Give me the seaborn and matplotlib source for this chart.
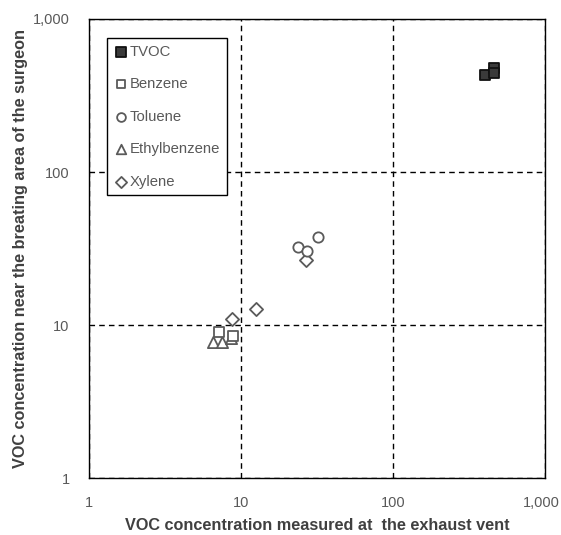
import matplotlib
matplotlib.use("Agg")
import matplotlib.pyplot as plt
import matplotlib.transforms as mtransforms
import seaborn as sns
import pandas as pd
from matplotlib.ticker import FixedLocator, NullLocator

# valori
tvoc_x = [403, 462, 462]
tvoc_y = [430, 475, 445]
benzene_x = [7.2, 8.9]
benzene_y = [9.0, 8.5]
toluene_x = [23.7, 27.2, 32.1]
toluene_y = [32.3, 30.5, 37.6]
ethyl_x = [6.5, 7.5, 8.6]
ethyl_y = [7.7, 7.7, 8.2]
xylene_x = [8.7, 12.6, 26.8]
xylene_y = [10.9, 12.7, 26.6]

names = ["TVOC", "Benzene", "Toluene", "Ethylbenzene", "Xylene"]
xs = [tvoc_x, benzene_x, toluene_x, ethyl_x, xylene_x]
ys = [tvoc_y, benzene_y, toluene_y, ethyl_y, xylene_y]

rows = []
for n, xx, yy in zip(names, xs, ys):
    for a, b in zip(xx, yy):
        rows.append({"compound": n, "exhaust": a, "surgeon": b})
df = pd.DataFrame(rows)

sns.set_style("white")
plt.rcParams['font.family'] = ['Liberation Sans', 'DejaVu Sans']

fig = plt.figure(figsize=(5.61, 5.35), dpi=100)
ax = fig.add_axes([0.1586, 0.1065, 0.813, 0.858])

markers = {"TVOC": "s", "Benzene": "s", "Toluene": "o", "Ethylbenzene": "^", "Xylene": "D"}
faces = {"TVOC": "#3a3a3a"}
sizes = {"TVOC": 60, "Benzene": 55, "Toluene": 55, "Ethylbenzene": 65, "Xylene": 45}
edge = "#5a5a5a"

for n in names[::-1]:
    sub = df[df["compound"] == n]
    sns.scatterplot(data=sub, x="exhaust", y="surgeon", ax=ax,
                    marker=markers[n], s=sizes[n],
                    color=faces.get(n, "white"),
                    edgecolor="#111111" if n == "TVOC" else edge,
                    linewidth=1.3, label=n, zorder=3)

ax.set_xscale("log")
ax.set_yscale("log")
ax.set_xlim(1, 1000)
ax.set_ylim(1, 1000)

ticks = [1, 10, 100, 1000]
labels = ["1", "10", "100", "1,000"]
ax.xaxis.set_major_locator(FixedLocator(ticks))
ax.yaxis.set_major_locator(FixedLocator(ticks))
ax.xaxis.set_minor_locator(NullLocator())
ax.yaxis.set_minor_locator(NullLocator())
ax.set_xticklabels(labels)
ax.set_yticklabels(labels)
ax.tick_params(axis="both", length=0, labelsize=10.5, labelcolor="#595959")
ax.tick_params(axis="x", pad=13)
ax.tick_params(axis="y", pad=14)

# l'ultima etichetta x un po' a sinistra per non uscire dal bordo
last = ax.get_xticklabels()[-1]
last.set_transform(last.get_transform() + mtransforms.ScaledTranslation(-4 / 100, 0, fig.dpi_scale_trans))

ax.grid(True, which="major", color="black", linestyle=(0, (4, 3)), linewidth=1)
for s in ax.spines.values():
    s.set_color("black")
    s.set_linewidth(1)

ax.set_xlabel("VOC concentration measured at  the exhaust vent", fontsize=11.7,
              fontweight="bold", color="#404040")
ax.set_ylabel("VOC concentration near the breating area of the surgeon", fontsize=11.7,
              fontweight="bold", color="#404040")
ax.xaxis.set_label_coords(0.5, -0.088)
ax.yaxis.set_label_coords(-0.134, 0.5)

# legenda nell'ordine originale
h, l = ax.get_legend_handles_labels()
order = [l.index(n) for n in names]
leg = ax.legend([h[i] for i in order], names, loc="upper left",
                bbox_to_anchor=(0.039, 0.959), borderaxespad=0,
                frameon=True, fancybox=False, framealpha=1,
                edgecolor="black", fontsize=10.7, labelspacing=1.25,
                handletextpad=0.1, borderpad=0.45, markerscale=0.85,
                handlelength=1.0)
leg.get_frame().set_linewidth(1)
for t in leg.get_texts():
    t.set_color("#595959")

fig.savefig("out.png", dpi=100)
